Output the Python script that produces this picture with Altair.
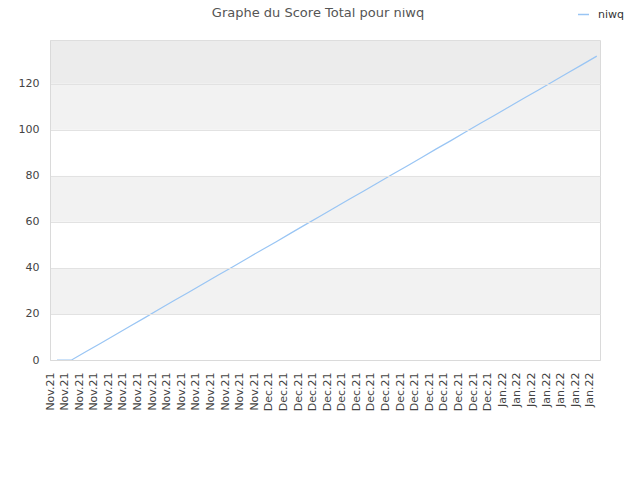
import altair as alt
import pandas as pd

labels = (["Nov.21"] * 15) + (["Dec.21"] * 16) + (["Jan.22"] * 7)
scores = [0, 0, 3.7, 7.3, 11.0, 14.7, 18.3, 22.0, 25.7, 29.3, 33.0, 36.7, 40.3, 44.0,
          47.7, 51.3, 55.0, 58.7, 62.3, 66.0, 69.7, 73.3, 77.0, 80.7, 84.3, 88.0,
          91.7, 95.3, 99.0, 102.7, 106.3, 110.0, 113.7, 117.3, 121.0, 124.7, 128.3, 132.0]
series_name = "niwq"

band_lo = [0, 20, 40, 60, 80, 100, 120]
band_hi = [20, 40, 60, 80, 100, 120, 138.7]
band_col = ["#ffffff", "#f2f2f2", "#ffffff", "#f2f2f2", "#ffffff", "#f2f2f2", "#ececec"]

df = pd.DataFrame({"i": list(range(len(scores))), "score": scores, "serie": series_name})
bands = pd.DataFrame({"lo": band_lo, "hi": band_hi, "col": band_col})

label_js = "[" + ",".join("'%s'" % l for l in labels) + "]"

xscale = alt.Scale(domain=[-0.48, len(scores) - 1 + 0.22], nice=False, zero=False)
yscale = alt.Scale(domain=[0, 139], nice=False)

yaxis = alt.Axis(values=[0, 20, 40, 60, 80, 100, 120], ticks=False,
                 domain=True, domainColor="#dadada", domainWidth=1,
                 grid=True, gridColor="#e2e2e2", gridWidth=1, zindex=1,
                 labelFont="DejaVu Sans", labelFontSize=11, labelColor="#444444",
                 labelPadding=11)

band_layer = alt.Chart(bands).mark_rect().encode(
    x=alt.value(0), x2=alt.value(550),
    y=alt.Y("lo:Q", scale=yscale, title=None, axis=yaxis),
    y2="hi:Q",
    fill=alt.Fill("col:N", scale=None, legend=None),
)

line = alt.Chart(df).mark_line(strokeWidth=1.2).encode(
    x=alt.X("i:Q", scale=xscale, title=None,
            axis=alt.Axis(values=list(range(len(labels))),
                          labelExpr=label_js + "[datum.value]",
                          labelAngle=270, labelAlign="right", labelBaseline="alphabetic",
                          labelPadding=12, labelOffset=-4, ticks=False, grid=False,
                          domain=True, domainColor="#dadada", domainWidth=1, zindex=1,
                          labelFont="DejaVu Sans", labelFontSize=11, labelColor="#444444",
                          labelOverlap=False, labelFlush=False)),
    y=alt.Y("score:Q", scale=yscale, title=None, axis=yaxis),
    color=alt.Color("serie:N", scale=alt.Scale(range=["#99c5f4"]),
                    legend=alt.Legend(title=None, orient="none", legendX=527, legendY=-32,
                                      symbolType="stroke", symbolSize=121, symbolStrokeWidth=1.5,
                                      labelFont="DejaVu Sans", labelFontSize=11,
                                      labelColor="#333333", labelOffset=8, padding=0)),
)

chart = alt.layer(band_layer, line).properties(
    width=550, height=320,
    padding={"left": 42, "top": 32, "right": 32, "bottom": 112},
    autosize=alt.AutoSizeParams(type="none"),
    title=alt.TitleParams("Graphe du Score Total pour niwq", font="DejaVu Sans",
                          fontSize=13, fontWeight="normal", color="#555555",
                          anchor="middle", dx=-7, offset=-12),
).configure_view(stroke="#dadada", strokeWidth=1)

chart.save("out.html", embed_options={"renderer": "svg", "actions": False})
